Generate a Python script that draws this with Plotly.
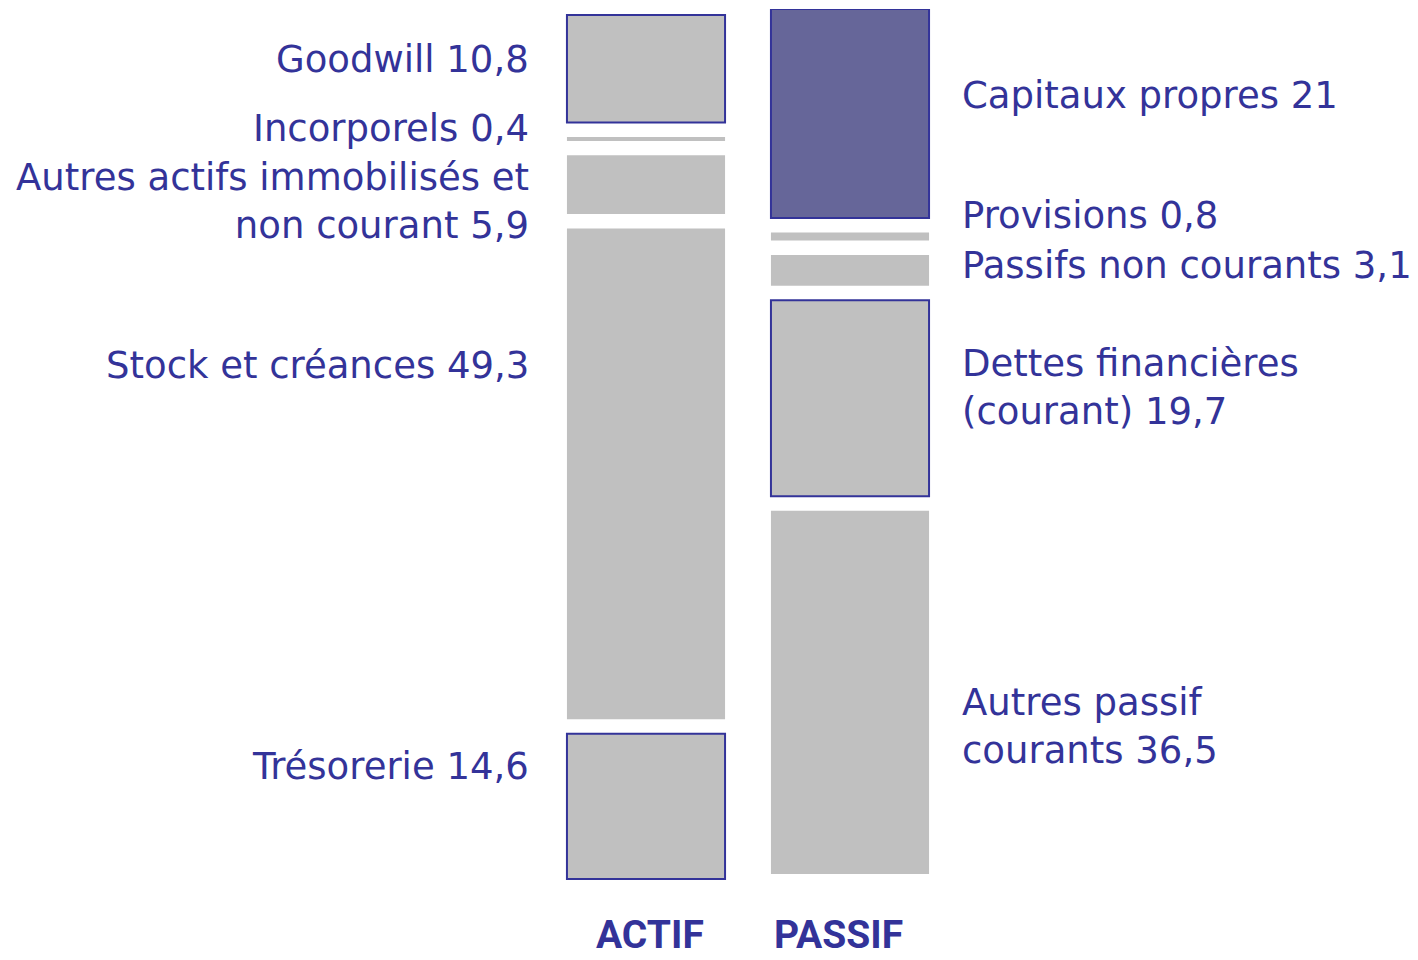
import plotly.graph_objects as go

# ---------------- data ----------------
columns = ["ACTIF", "PASSIF"]

actif_labels = [
    "Goodwill 10,8",
    "Incorporels 0,4",
    "Autres actifs immobilisés et<br>non courant 5,9",
    "Stock et créances 49,3",
    "Trésorerie 14,6",
]
actif_values = [10.8, 0.4, 5.9, 49.3, 14.6]

passif_labels = [
    "Capitaux propres 21",
    "Provisions 0,8",
    "Passifs non courants 3,1",
    "Dettes financières<br>(courant) 19,7",
    "Autres passif<br>courants 36,5",
]
passif_values = [21, 0.8, 3.1, 19.7, 36.5]

# ---------------- style ----------------
NAVY = "#333399"
GREY = "#C0C0C0"
PURPLE = "#666699"
FONT = "DejaVu Sans"

gap = 1.45            # gap between stacked blocks (data units)
bar_w = 0.775
actif_top = 0.6
passif_top = 0.0

actif_fill = [GREY, GREY, GREY, GREY, GREY]
actif_border = [2, 0, 0, 0, 2]
passif_fill = [PURPLE, GREY, GREY, GREY, GREY]
passif_border = [2, 0, 0, 2, 0]

actif_label_shift = [9, 10, -17, 108, 40]
passif_label_shift = [18, 21, 5, 11, -34]


def bases(values, top):
    out, cur = [], top
    for v in values:
        out.append(cur)
        cur += v + gap
    return out


actif_base = bases(actif_values, actif_top)
passif_base = bases(passif_values, passif_top)

fig = go.Figure()

for xpos, vals, base, fills, borders in [
    (0, actif_values, actif_base, actif_fill, actif_border),
    (1, passif_values, passif_base, passif_fill, passif_border),
]:
    fig.add_trace(go.Bar(
        x=[xpos] * len(vals),
        y=vals,
        base=base,
        width=bar_w,
        marker=dict(
            color=fills,
            line=dict(color=[NAVY if b else "rgba(0,0,0,0)" for b in borders],
                      width=borders),
        ),
        hoverinfo="skip",
        showlegend=False,
    ))

annotations = []
for lab, v, b, s in zip(actif_labels, actif_values, actif_base, actif_label_shift):
    annotations.append(dict(
        x=-bar_w / 2, y=b + v / 2, xref="x", yref="y",
        text=lab, showarrow=False, xanchor="right", yanchor="middle",
        align="right", xshift=-36, yshift=s,
        font=dict(family=FONT, size=37, color=NAVY),
    ))
for lab, v, b, s in zip(passif_labels, passif_values, passif_base, passif_label_shift):
    annotations.append(dict(
        x=1 + bar_w / 2, y=b + v / 2, xref="x", yref="y",
        text=lab, showarrow=False, xanchor="left", yanchor="middle",
        align="left", xshift=31, yshift=s,
        font=dict(family=FONT, size=37, color=NAVY),
    ))
for i, (col, xs) in enumerate(zip(columns, [4, -12])):
    annotations.append(dict(
        x=i, y=1, xref="x", yref="paper",
        text="<b>" + col + "</b>", showarrow=False,
        xanchor="center", yanchor="middle", xshift=xs, yshift=-935 + 9,
        font=dict(family="Roboto", size=39, color=NAVY),
    ))

fig.update_layout(
    width=1418, height=960,
    margin=dict(l=0, r=0, t=9, b=75),
    paper_bgcolor="white", plot_bgcolor="white",
    barmode="overlay",
    xaxis=dict(range=[-646 / 204, 772 / 204], visible=False, fixedrange=True),
    yaxis=dict(range=[88, 0], visible=False, fixedrange=True),
    annotations=annotations,
    showlegend=False,
)

fig.write_html(
    "out.html",
    config={"displayModeBar": False},
    post_script="document.body.style.margin='0';document.body.style.overflow='hidden';",
)
